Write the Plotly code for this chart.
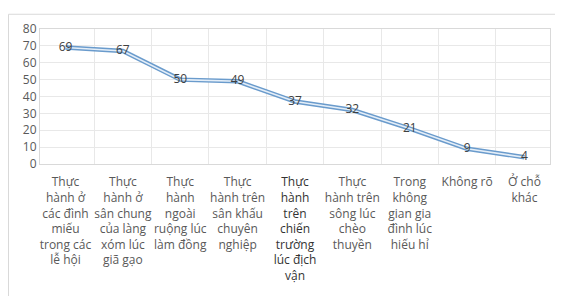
import plotly.graph_objects as go

categories = [
    "Thực<br>hành ở<br>các đình<br>miếu<br>trong các<br>lễ hội",
    "Thực<br>hành ở<br>sân chung<br>của làng<br>xóm lúc<br>giã gạo",
    "Thực<br>hành<br>ngoài<br>ruộng lúc<br>làm đồng",
    "Thực<br>hành trên<br>sân khấu<br>chuyên<br>nghiệp",
    "<span style='color:#333333'>Thực<br>hành<br>trên<br>chiến<br>trường<br>lúc địch<br>vận</span>",
    "Thực<br>hành trên<br>sông lúc<br>chèo<br>thuyền",
    "Trong<br>không<br>gian gia<br>đình lúc<br>hiếu hỉ",
    "Không rõ",
    "Ở chỗ<br>khác",
]
values = [69, 67, 50, 49, 37, 32, 21, 9, 4]
y_ticks = [0, 10, 20, 30, 40, 50, 60, 70, 80]

fig = go.Figure()
fig.add_trace(go.Scatter(x=categories, y=values, mode="lines",
                         line=dict(color="#6a9bcc", width=4.5), hoverinfo="skip"))
fig.add_trace(go.Scatter(x=categories, y=values, mode="lines+text",
                         line=dict(color="#e4eef8", width=1.6),
                         text=[str(v) for v in values], textposition="middle center",
                         textfont=dict(family="Open Sans", size=12, color="#404040")))

# figure sits at (8, 8) in the page because of the default body margin
W, H = 555, 288
L, T, R, B = 32, 16, 13, 130
pw, ph = W - L - R, H - T - B

fig.update_layout(
    width=W, height=H,
    margin=dict(l=L, r=R, t=T, b=B),
    paper_bgcolor="white", plot_bgcolor="white",
    showlegend=False,
    font=dict(family="Open Sans", color="#595959"),
    xaxis=dict(type="category", tickson="boundaries", showgrid=True, gridcolor="#e8e8e8",
               ticks="", tickfont=dict(size=12, color="#595959"), ticklabelstandoff=7,
               showline=True, linecolor="#d9d9d9", mirror=True, tickangle=0),
    yaxis=dict(range=[0, 80], tickvals=y_ticks, showgrid=True, gridcolor="#e8e8e8",
               tickfont=dict(size=12, color="#595959"), zeroline=False,
               showline=True, linecolor="#d9d9d9", mirror=True),
    shapes=[dict(type="rect", xref="paper", yref="paper",
                 x0=(0.5 - L) / pw, x1=(W + 10 - L) / pw,
                 y0=-(B + 10) / ph, y1=(ph + T - 0.5) / ph,
                 line=dict(color="#d9d9d9", width=1), layer="below")],
)
fig.write_html("out.html")
